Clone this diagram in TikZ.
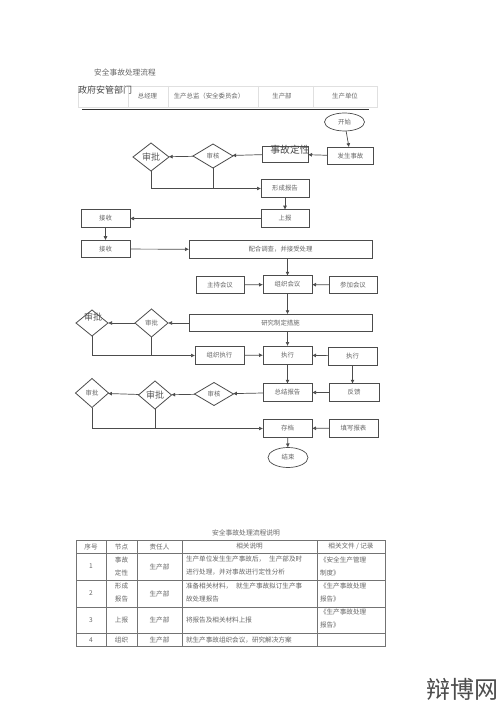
\documentclass[tikz,border=0pt]{standalone}
\usepackage{fontspec}
\setmainfont{Noto Sans CJK SC}
\usetikzlibrary{arrows.meta,shapes.geometric}
\definecolor{ink}{gray}{0.30}
\definecolor{txt}{gray}{0.40}
\definecolor{grid}{gray}{0.45}
\definecolor{faint}{gray}{0.88}
\tikzset{
 x=1pt,y=-1pt,
 every node/.style={inner sep=0pt,outer sep=0pt,text=txt,font=\fontsize{6.4}{7.5}\selectfont},
 boxn/.style={draw=ink,line width=.7pt,fill=white,minimum width=48pt,minimum height=17.5pt},
 wide/.style={boxn,minimum width=183pt},
 dia/.style={draw=ink,line width=.8pt,diamond,aspect=1.3,fill=white},
 oval/.style={draw=ink,line width=.7pt,ellipse,fill=white,minimum width=40pt,minimum height=18pt},
 arr/.style={draw=ink,line width=.7pt,-{Latex[length=4pt,width=4pt]}},
 lin/.style={draw=ink,line width=.7pt},
 big/.style={font=\fontsize{9}{10}\selectfont,text=black!65},
 tc/.style={font=\fontsize{6.6}{13}\selectfont,align=left,text=txt},
 tn/.style={font=\fontsize{6.6}{13}\selectfont,align=center,text=txt},
}
\begin{document}
\begin{tikzpicture}
\useasboundingbox (0,0) rectangle (500,708);
\fill[white] (0,0) rectangle (500,708);

\node[font=\fontsize{7.7}{9}\selectfont] (title) at (125,72.5) {安全事故处理流程};
\coordinate (hA) at (78,86); \coordinate (hB) at (377,107);
\draw[faint,line width=.5pt] (hA) rectangle (hB);
\foreach \q in {128,168,258,313}{\draw[faint,line width=.5pt] (\q,86) -- (\q,107);}
\node[font=\fontsize{9}{10}\selectfont,text=black!72] (h1) at (105,90.5) {政府安管部门};
\node (h2) at (147.5,96) {总经理};
\node (h3) at (209,96) {生产总监（安全委员会）};
\node (h4) at (282,96) {生产部};
\node (h5) at (345,96) {生产单位};
\coordinate (ruleL) at (82,109.5); \coordinate (ruleR) at (369,109.5);
\draw[black!80,line width=1pt] (ruleL) -- (ruleR);

\node[oval] (start) at (344.5,122) {开始};
\node[boxn,minimum width=46pt] (occur) at (350.5,156) {发生事故};
\node[boxn,minimum width=46pt,minimum height=16pt] (nature) at (285,154) {};
\node[font=\fontsize{9.8}{11}\selectfont,text=black!72] (natureT) at (290,149.5) {事故定性};
\node[dia,minimum width=40pt,minimum height=24pt] (check1) at (213,156) {审核};
\node[dia,big,minimum width=36pt,minimum height=28pt,aspect=1.2] (appr1) at (151,157) {审批};
\node[boxn] (report) at (285,188.5) {形成报告};
\node[boxn] (submit) at (285,218.5) {上报};
\node[boxn,minimum width=49pt] (recv1) at (105.5,218.5) {接收};
\node[boxn,minimum width=49pt] (recv2) at (105.5,249) {接收};
\node[wide] (coop) at (280.5,249.5) {配合调查，并接受处理};
\node[boxn] (host) at (220,285) {主持会议};
\node[boxn,minimum width=49pt] (meet) at (287.5,284.5) {组织会议};
\node[boxn] (join) at (353,285) {参加会议};
\node[wide] (plan) at (280.5,323) {研究制定措施};
\node[dia,minimum width=33pt,minimum height=28pt,aspect=1.2] (appr3) at (151.5,323) {审批};
\node[dia,minimum width=32pt,minimum height=26pt,aspect=1.2] (appr2) at (92,323) {};
\node[big] (appr2T) at (93,317) {审批};
\node[boxn,minimum width=49pt] (org) at (219.5,355.5) {组织执行};
\node[boxn,minimum width=49pt,minimum height=18pt] (exec) at (287.5,355) {执行};
\node[boxn,minimum width=49pt,minimum height=18pt] (execR) at (352.5,356) {执行};
\node[boxn,minimum width=49pt] (summ) at (287.5,392.5) {总结报告};
\node[boxn,minimum width=50pt] (feed) at (354,392.5) {反馈};
\node[dia,minimum width=39pt,minimum height=23pt,aspect=1.6] (check2) at (214,394) {审核};
\node[dia,big,minimum width=33pt,minimum height=28pt,aspect=1.2] (appr4) at (155,395) {审批};
\node[dia,minimum width=33pt,minimum height=29pt,aspect=1.2] (appr5) at (92,393) {审批};
\node[boxn,minimum width=49pt] (arch) at (287.5,428.5) {存档};
\node[boxn,minimum width=49pt,minimum height=18pt] (fill) at (353.5,428) {填写报表};
\node[oval,minimum height=20pt] (end) at (288,457.5) {结束};

\draw[arr] (start) -- (occur);
\draw[arr] (occur) -- (nature);
\draw[arr] (nature) -- (check1);
\draw[arr] (check1) -- (appr1);
\draw[arr] (appr1.south) |- (report.west);
\draw[lin] (check1.south) -- (check1.south |- report.west);
\draw[arr] (report) -- (submit);
\draw[arr] (submit) -- (recv1);
\draw[arr] (recv1) -- (recv2);
\draw[arr] (recv2) -- (coop);
\draw[arr] (coop.south -| meet.north) -- (meet.north);
\draw[arr] (host) -- (meet);
\draw[arr] (join) -- (meet);
\draw[arr] (meet.south) -- (meet.south |- plan.north);
\draw[arr] (plan) -- (appr3);
\draw[arr] (appr3) -- (appr2);
\draw[arr] (appr2.south) |- (org.west);
\draw[lin] (appr3.south) -- (appr3.south |- org.west);
\draw[arr] (org) -- (exec);
\draw[arr] (execR) -- (exec);
\draw[arr] (plan.south -| exec.north) -- (exec.north);
\draw[arr] (exec) -- (summ);
\draw[arr] (execR.south) -- (execR.south |- feed.north);
\draw[arr] (feed) -- (summ);
\draw[arr] (summ) -- (check2);
\draw[arr] (check2) -- (appr4);
\draw[arr] (appr4) -- (appr5);
\draw[arr] (appr5.south) |- (arch.west);
\draw[lin] (appr4.south) -- (appr4.south |- arch.west);
\draw[arr] (fill) -- (arch);
\draw[arr] (arch) -- (end);

% table
\node[font=\fontsize{6.8}{8}\selectfont] (ttitle) at (246,533) {安全事故处理流程说明};
\draw[grid,line width=.6pt] (76,540) rectangle (385,646);
\foreach \q in {553,580,607,633}{\draw[grid,line width=.6pt] (76,\q) -- (385,\q);}
\foreach \q in {106,137,182,317}{\draw[grid,line width=.6pt] (\q,540) -- (\q,646);}
\node[tn] (c01) at (91,546.5) {序号};
\node[tn] (c02) at (121.5,546.5) {节点};
\node[tn] (c03) at (159.5,546.5) {责任人};
\node[tn] (c04) at (249.5,546.5) {相关说明};
\node[tn] (c05) at (351,546.5) {相关文件 / 记录};
\node[tn] (r1a) at (91,566.5) {1};
\node[tn] (r1b) at (121.5,566) {事故\\定性};
\node[tn] (r1c) at (159.5,566.5) {生产部};
\node[tc,anchor=west] (r1d) at (186,566) {生产单位发生生产事故后，\hspace{4pt}生产部及时\\进行处理，并对事故进行定性分析};
\node[tc,anchor=west] (r1e) at (320,566) {《安全生产管理\\制度》};
\node[tn] (r2a) at (91,593.5) {2};
\node[tn] (r2b) at (121.5,592.5) {形成\\报告};
\node[tn] (r2c) at (159.5,593.5) {生产部};
\node[tc,anchor=west] (r2d) at (186,592.5) {准备相关材料，\hspace{4pt}就生产事故拟订生产事\\故处理报告};
\node[tc,anchor=west] (r2e) at (320,592.5) {《生产事故处理\\报告》};
\node[tn] (r3a) at (91,620) {3};
\node[tn] (r3b) at (121.5,620) {上报};
\node[tn] (r3c) at (159.5,620) {生产部};
\node[tc,anchor=west] (r3d) at (186,620) {将报告及相关材料上报};
\node[tc,anchor=west] (r3e) at (320,618.5) {《生产事故处理\\报告》};
\node[tn] (r4a) at (91,640) {4};
\node[tn] (r4b) at (121.5,640) {组织};
\node[tn] (r4c) at (159.5,640) {生产部};
\node[tc,anchor=west] (r4d) at (186,640) {就生产事故组织会议，研究解决方案};

\node[anchor=west,font=\fontsize{24}{26}\selectfont,text=black!70] (wm) at (426,689) {辩博网};
\end{tikzpicture}
\end{document}
